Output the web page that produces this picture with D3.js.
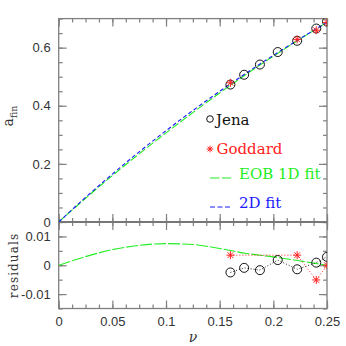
<!DOCTYPE html>
<html lang="en">
<head>
<meta charset="UTF-8">
<title>afin vs nu</title>
<script src="https://d3js.org/d3.v7.min.js"></script>
<style>
  body { margin: 0; background: #fff; }
  svg { display: block; font-family: "DejaVu Serif", "Liberation Serif", serif; }
  .tick text { font-size: 13px; fill: #333; }
</style>
</head>
<body>
<div id="chart"></div>
<script>
// fit curves
var nuGrid = [0, 0.025, 0.05, 0.075, 0.1, 0.125, 0.15, 0.175, 0.2, 0.225, 0.25];
var fit2D = [0, 0.0845, 0.1649, 0.2414, 0.3142, 0.3836, 0.4498, 0.5130, 0.5735, 0.6313, 0.6869];
var fitEOB = [0, 0.0815, 0.1595, 0.2345, 0.3067, 0.3764, 0.4440, 0.5089, 0.5706, 0.6298, 0.6869];
var residEOB = [0, 0.0030, 0.0054, 0.0069, 0.0075, 0.0072, 0.0058, 0.0041, 0.0029, 0.0015, 0.0];

// numerical relativity data
var jenaNu = [0.16, 0.1728, 0.1875, 0.2041, 0.2222, 0.24, 0.25];
var jenaA = [0.4730, 0.5067, 0.5419, 0.5849, 0.6236, 0.6659, 0.6898];
var jenaRes = [-0.0025, -0.0009, -0.0017, 0.0018, -0.0014, 0.0009, 0.0029];
var godNu = [0.16, 0.2222, 0.24, 0.25];
var godA = [0.4790, 0.6285, 0.6599, 0.6869];
var godRes = [0.0035, 0.0035, -0.0051, 0.0];

var xMajor = [0, 0.05, 0.1, 0.15, 0.2, 0.25];
var yTopMajor = [0, 0.2, 0.4, 0.6];
var yBotMajor = [-0.01, 0, 0.01];

var W = 346, H = 346;
var padL = 58.7, padR = 327, padT = 18.6, yMid = 222, padB = 308.5;

var svg = d3.select("#chart").append("svg").attr("width", W).attr("height", H);

var x = d3.scaleLinear().domain([0, 0.25]).range([padL, padR]);
var yTop = d3.scaleLinear().domain([0, 0.7]).range([yMid, padT]);
var yBot = d3.scaleLinear().domain([-0.015, 0.015]).range([padB, yMid]);

var fmt = function (d) { return d === 0 ? "0" : String(+d.toFixed(4)); };
var axisCol = "#808080";

function steps(lo, hi, step) {
    var out = [];
    for (var v = lo; v <= hi + 1e-9; v += step) out.push(+v.toFixed(5));
    return out;
}
var xMinor = steps(0, 0.25, 0.0125);
var yTopMinor = steps(0, 0.7, 0.05);
var yBotMinor = steps(-0.015, 0.015, 0.005);

function drawAxis(axis, tx, ty, labels) {
    var g = svg.append("g").attr("transform", "translate(" + tx + "," + ty + ")").call(axis);
    g.select(".domain").remove();
    g.selectAll("line").attr("stroke", axisCol).attr("stroke-width", 1.2);
    if (!labels) g.selectAll("text").remove();
    return g;
}

// panels: upper (yTop) and lower (yBot)
[[yTop, yTopMajor, yTopMinor, padT, yMid], [yBot, yBotMajor, yBotMinor, yMid, padB]].forEach(function (p) {
    var ys = p[0], yM = p[1], ym = p[2], t = p[3], b = p[4];
    // minor ticks
    drawAxis(d3.axisLeft(ys).tickValues(ym).tickSize(-4), padL, 0, false);
    drawAxis(d3.axisRight(ys).tickValues(ym).tickSize(-4), padR, 0, false);
    drawAxis(d3.axisBottom(x).tickValues(xMinor).tickSize(-4), 0, b, false);
    drawAxis(d3.axisTop(x).tickValues(xMinor).tickSize(-4), 0, t, false);
    // major ticks
    drawAxis(d3.axisLeft(ys).tickValues(yM).tickSize(-8).tickPadding(8).tickFormat(fmt), padL, 0, true);
    drawAxis(d3.axisRight(ys).tickValues(yM).tickSize(-8), padR, 0, false);
    drawAxis(d3.axisBottom(x).tickValues(xMajor).tickSize(-8), 0, b, false);
    drawAxis(d3.axisTop(x).tickValues(xMajor).tickSize(-8), 0, t, false);
    svg.append("rect")
        .attr("x", padL).attr("y", t)
        .attr("width", padR - padL).attr("height", b - t)
        .attr("fill", "none").attr("stroke", axisCol).attr("stroke-width", 1.3);
});

// x tick labels on the bottom panel
var xl = drawAxis(d3.axisBottom(x).tickValues(xMajor).tickSize(0).tickPadding(8).tickFormat(fmt), 0, padB, true);
xl.selectAll("line").remove();

// thicker divider
svg.append("line").attr("x1", padL).attr("x2", padR).attr("y1", yMid).attr("y2", yMid)
    .attr("stroke", "#777").attr("stroke-width", 2);

// clip paths
var defs = svg.append("defs");
defs.append("clipPath").attr("id", "clipTop").append("rect")
    .attr("x", padL).attr("y", padT).attr("width", padR - padL).attr("height", yMid - padT);
defs.append("clipPath").attr("id", "clipBot").append("rect")
    .attr("x", padL).attr("y", yMid).attr("width", padR - padL).attr("height", padB - yMid);

var gTop = svg.append("g").attr("clip-path", "url(#clipTop)");
var gBot = svg.append("g").attr("clip-path", "url(#clipBot)");

var green = "#22ee22", blue = "#1a1aff", red = "#ff2020";

// upper curves
var lineTop = function (vals) {
    return d3.line().curve(d3.curveMonotoneX)
        .x(function (d, i) { return x(nuGrid[i]); })
        .y(function (d) { return yTop(d); })(vals);
};
gTop.append("path").attr("d", lineTop(fitEOB)).attr("fill", "none")
    .attr("stroke", green).attr("stroke-width", 1.1).attr("stroke-dasharray", "8,2.5");
gTop.append("path").attr("d", lineTop(fit2D)).attr("fill", "none")
    .attr("stroke", blue).attr("stroke-width", 1.1).attr("stroke-dasharray", "4,2.5");

// asterisk marker
function star(cx, cy, r) {
    var s = "";
    for (var k = 0; k < 4; k++) {
        var a = k * Math.PI / 4;
        var dx = r * Math.cos(a), dy = r * Math.sin(a);
        s += "M" + (cx - dx) + "," + (cy - dy) + "L" + (cx + dx) + "," + (cy + dy);
    }
    return s;
}

// upper markers
gTop.selectAll("circle.jena").data(jenaNu).enter().append("circle")
    .attr("cx", function (d) { return x(d); })
    .attr("cy", function (d, i) { return yTop(jenaA[i]); })
    .attr("r", 4.5).attr("fill", "none").attr("stroke", "#111").attr("stroke-width", 1);
gTop.selectAll("path.god").data(godNu).enter().append("path")
    .attr("d", function (d, i) { return star(x(d), yTop(godA[i]), 4); })
    .attr("stroke", red).attr("stroke-width", 1);

// lower panel
gBot.append("path")
    .attr("d", d3.line().curve(d3.curveMonotoneX)
        .x(function (d, i) { return x(nuGrid[i]); })
        .y(function (d) { return yBot(d); })(residEOB))
    .attr("fill", "none").attr("stroke", green).attr("stroke-width", 1.1).attr("stroke-dasharray", "12,2");

var dotLine = function (nus, vals) {
    return d3.line().x(function (d) { return x(d); })
        .y(function (d, i) { return yBot(vals[i]); })(nus);
};
gBot.append("path").attr("d", dotLine(godNu, godRes)).attr("fill", "none")
    .attr("stroke", red).attr("stroke-width", 1).attr("stroke-dasharray", "1,2");
gBot.append("path").attr("d", dotLine(jenaNu, jenaRes)).attr("fill", "none")
    .attr("stroke", "#222").attr("stroke-width", 1).attr("stroke-dasharray", "1,2");

gBot.selectAll("circle.jena").data(jenaNu).enter().append("circle")
    .attr("cx", function (d) { return x(d); })
    .attr("cy", function (d, i) { return yBot(jenaRes[i]); })
    .attr("r", 4.5).attr("fill", "none").attr("stroke", "#111").attr("stroke-width", 1);
gBot.selectAll("path.god").data(godNu).enter().append("path")
    .attr("d", function (d, i) { return star(x(d), yBot(godRes[i]), 4); })
    .attr("stroke", red).attr("stroke-width", 1);

// legend
var leg = svg.append("g").style("font-size", "15px");
leg.append("circle").attr("cx", 210).attr("cy", 119).attr("r", 3.3)
    .attr("fill", "none").attr("stroke", "#111").attr("stroke-width", 1);
leg.append("text").attr("x", 216).attr("y", 124.5).attr("fill", "#111").text("Jena");
leg.append("path").attr("d", star(210, 149, 3.3)).attr("stroke", red).attr("stroke-width", 1);
leg.append("text").attr("x", 216.5).attr("y", 153.5).attr("fill", red).text("Goddard");
leg.append("line").attr("x1", 210).attr("x2", 231).attr("y1", 178).attr("y2", 178)
    .attr("stroke", green).attr("stroke-width", 1.1).attr("stroke-dasharray", "9.5,2.5");
leg.append("text").attr("x", 239).attr("y", 178.5).attr("fill", green).text("EOB 1D fit");
leg.append("line").attr("x1", 210).attr("x2", 231).attr("y1", 207).attr("y2", 207)
    .attr("stroke", blue).attr("stroke-width", 1.1).attr("stroke-dasharray", "5,2.5");
leg.append("text").attr("x", 239).attr("y", 207.5).attr("fill", blue).text("2D fit");

// axis titles
svg.append("text").attr("x", 193).attr("y", 342).attr("text-anchor", "middle")
    .style("font-size", "14px").style("font-style", "italic").attr("fill", "#333").text("ν");

var ya = svg.append("text").attr("transform", "translate(12.5,116) rotate(-90)")
    .attr("text-anchor", "middle").attr("fill", "#333").style("font-size", "14px");
ya.append("tspan").text("a");
ya.append("tspan").attr("dy", 4).style("font-size", "9.5px").text("fin");

svg.append("text").attr("transform", "translate(18.3,265.5) rotate(-90)")
    .attr("text-anchor", "middle").attr("fill", "#333")
    .style("font-size", "12px").style("letter-spacing", "1.1px").text("residuals");
</script>
</body>
</html>
